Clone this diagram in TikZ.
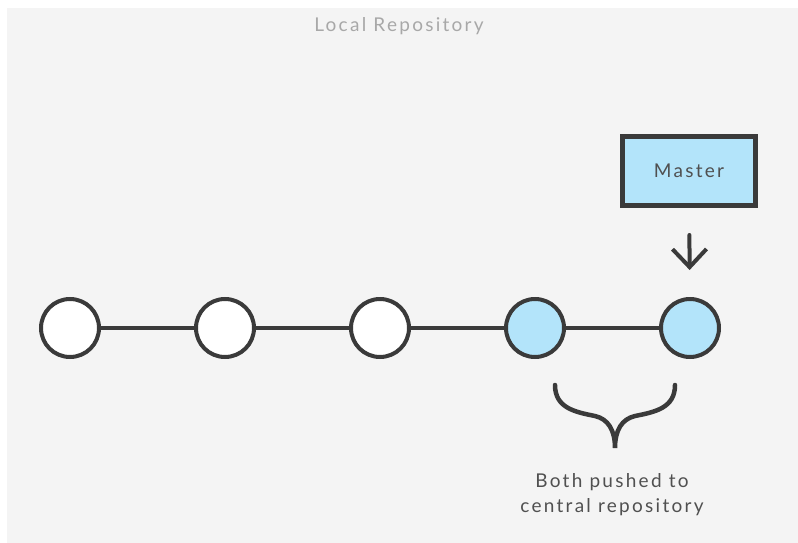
\documentclass[tikz,border=0pt]{standalone}
\usepackage{fontspec}
\setmainfont{Lato}[LetterSpace=12]
\usepackage{tikz}
\usetikzlibrary{arrows.meta}

\definecolor{bgcol}{HTML}{F4F4F4}
\definecolor{inkcol}{HTML}{3A3A3A}
\definecolor{pushcol}{HTML}{B3E4FA}
\definecolor{txtcol}{HTML}{505050}
\definecolor{titlecol}{HTML}{A8A8A8}

\begin{document}
\begin{tikzpicture}[x=1pt,y=-1pt,line width=4pt,draw=inkcol,
	commit/.style={circle,draw=inkcol,fill=white,minimum size=58pt,inner sep=0pt},
	pushed/.style={commit,fill=pushcol},
	branchbox/.style={draw=inkcol,line width=5pt,fill=pushcol,minimum width=133pt,minimum height=69pt,
		font=\fontsize{19}{22}\selectfont,text=txtcol}]
		\useasboundingbox (0,0) rectangle (798,543);
		\fill[bgcol] (7,8) rectangle (798,543);
		\node[font=\fontsize{19}{22}\selectfont,text=titlecol] (title) at (399,26) {Local Repository};
		
		\foreach \x [count=\xi] in {70,225,380}
		{
			\node[commit] (c\xi) at (\x,328) {};
		}
		\node[pushed] (c4) at (535,328) {};
		\node[pushed] (c5) at (690,328) {};
		\foreach \a/\b in {c1/c2,c2/c3,c3/c4,c4/c5}
			\draw (\a) -- (\b);
		
		\node[branchbox] (master) at (689,171) {Master};
		\draw[-{Straight Barb[length=18pt,width=34pt]},line cap=round,shorten <=27pt,shorten >=27pt] (master) -- (c5);
		
		% brace under the two pushed commits
		\draw[line width=4.5pt,line cap=round] (555,385) .. controls (555,408) and (575,412) .. (595,416)
			.. controls (608,419) and (615,430) .. (615,448)
			.. controls (615,430) and (622,419) .. (635,416)
			.. controls (655,412) and (675,408) .. (675,385);
		\node[font=\fontsize{19}{25}\selectfont,text=txtcol,align=center] (note) at (612,495) {Both pushed to\\central repository};
		\end{tikzpicture}
\end{document}
